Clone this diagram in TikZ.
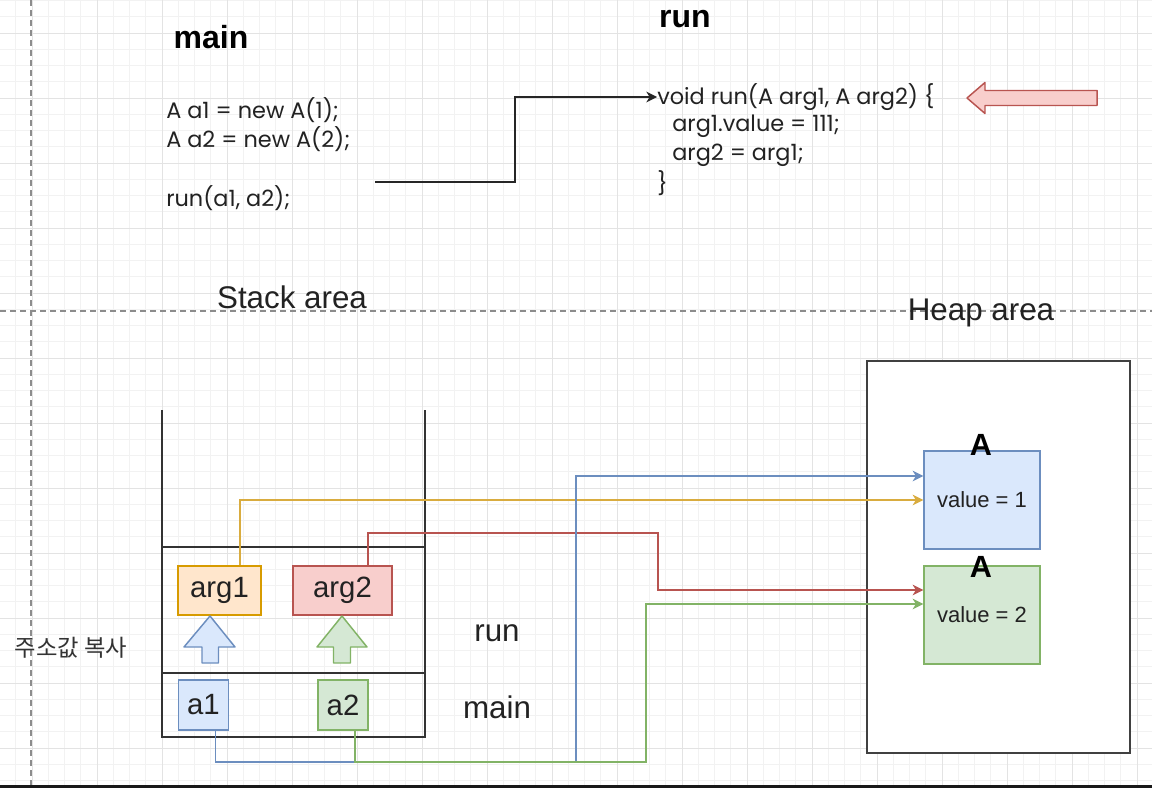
\documentclass[tikz,border=0pt]{standalone}
\usepackage{fontspec}
\setmainfont{Liberation Sans}
\newfontfamily\codefont{Poppins}
\newfontfamily\krfont{Noto Sans CJK KR}
\usetikzlibrary{arrows.meta,calc}
\definecolor{bfill}{HTML}{DAE8FC}\definecolor{bline}{HTML}{6C8EBF}
\definecolor{gfill}{HTML}{D5E8D4}\definecolor{gline}{HTML}{82B366}
\definecolor{ofill}{HTML}{FFE6CC}\definecolor{oline}{HTML}{D79B00}
\definecolor{rfill}{HTML}{F8CECC}\definecolor{rline}{HTML}{B85450}
\definecolor{yconn}{HTML}{D9AC3F}
\definecolor{txt}{HTML}{222222}
\begin{document}
\begin{tikzpicture}[x=0.75pt,y=-0.75pt,
  gminor/.style={draw=black!5,line width=0.6pt},
  gmajor/.style={draw=black!11,line width=0.6pt},
  pagebrk/.style={draw=black!45,line width=0.8pt,dash pattern=on 4.5pt off 3pt},
  title/.style={font=\fontsize{24}{28}\selectfont\bfseries,inner sep=0pt},
  area/.style={font=\fontsize{23.5}{28}\selectfont,inner sep=0pt,text=txt},
  code/.style={font=\codefont\fontsize{16.8}{20}\selectfont,inner sep=0pt,anchor=west,text=txt},
  cell/.style={draw,line width=1.1pt,inner sep=0pt,font=\fontsize{22}{26}\selectfont,text=txt},
  obj/.style={draw,line width=1.1pt,inner sep=0pt,minimum width=87pt,minimum height=73.5pt,font=\fontsize{16.5}{20}\selectfont,text=txt},
  conn/.style={line width=1.1pt,-{Stealth[length=8pt,width=8pt,inset=2.5pt]}},
  stackline/.style={draw=black!80,line width=1.5pt},
  blockarrow/.style={line width=1.1pt,line join=round}
]
\useasboundingbox (0,0) rectangle (1152,788);
\fill[white] (0,0) rectangle (1152,788);
% grid
\foreach \i in {0,...,71} {\draw[gminor] ({-0.5+16.25*\i},0) -- ({-0.5+16.25*\i},788);}
\foreach \j in {0,...,48} {\draw[gminor] (0,{0.5+16.25*\j}) -- (1152,{0.5+16.25*\j});}
\foreach \i in {0,...,17} {\draw[gmajor] ({32+65*\i},0) -- ({32+65*\i},788);}
\foreach \j in {0,...,11} {\draw[gmajor] (0,{33+65*\j}) -- (1152,{33+65*\j});}
% page breaks
\draw[pagebrk] (31,0) -- (31,788);
\draw[pagebrk] (0,311) -- (1152,311);
\fill[black!90] (0,785) rectangle (1152,788);

% titles
\node[title] (tmain) at (211,37) {main};
\node[title] (trun) at (685,19) {run};

% code main
\node[code] (l1) at (166,110) {A a1 = new A(1);};
\node[code] (l2) at (166,139) {A a2 = new A(2);};
\node[code] (l3) at (166,198) {run(a1, a2);};
% code run
\node[code] (r1) at (657,97) {void run(A arg1, A arg2) \{};
\node[code] (r2) at (672,126) {arg1.value = 111;};
\node[code] (r3) at (672,155) {arg2 = arg1;};
\node[code] (r4) at (657,183) {\}};

% call connector
\coordinate (cs) at (375,182);
\coordinate (cb) at (515,182);
\draw[conn,black!85] (cs) -- (cb) |- (r1.west);

% red block arrow
\draw[blockarrow,draw=rline,fill=rfill] (967,98) -- (985,82.5) -- (985,90.5) -- (1097,90.5) -- (1097,105.5) -- (985,105.5) -- (985,113.5) -- cycle;

% area titles
\node[area] (stackt) at (292,297) {Stack area};
\node[area] (heapt) at (981,313) {Heap area};

% heap
\node[draw=black!75,fill=white,line width=1.5pt,minimum width=197.25pt,minimum height=294pt,inner sep=0pt] (heap) at (998.5,557) {};
\node[obj,draw=bline,fill=bfill] (obj1) at (982,500) {value = 1};
\node[obj,draw=gline,fill=gfill] (obj2) at (982,615) {value = 2};
\node[title,font=\fontsize{23}{26}\selectfont\bfseries] (A1) at (981,445) {A};
\node[title,font=\fontsize{23}{26}\selectfont\bfseries] (A2) at (981,567) {A};

% stack
\draw[stackline] (162,410) -- (162,737) -- (425,737) -- (425,410);
\draw[stackline] (162,547) -- (425,547);
\draw[stackline] (162,673) -- (425,673);

\node[cell,draw=oline,fill=ofill,minimum width=62.25pt,minimum height=36.75pt] (arg1) at (219.5,590.5) {arg1};
\node[cell,draw=rline,fill=rfill,minimum width=74.25pt,minimum height=36.75pt] (arg2) at (342.5,590.5) {arg2};
\node[cell,draw=bline,fill=bfill,minimum width=37.5pt,minimum height=37.5pt] (a1) at (203.5,705) {a1};
\node[cell,draw=gline,fill=gfill,minimum width=37.5pt,minimum height=37.5pt] (a2) at (343,705) {a2};

\node[area] (lrun) at (497,633) {run};
\node[area] (lmain) at (497,707) {main};
\node[font=\krfont\fontsize{17.5}{20}\selectfont,text=black!80,inner sep=0pt] (copy) at (71,648) {주소값 복사};

% up block arrows
\draw[blockarrow,draw=bline,fill=bfill] (210,616) -- (235,647) -- (218.5,647) -- (218.5,663) -- (202,663) -- (202,647) -- (184,647) -- cycle;
\draw[blockarrow,draw=gline,fill=gfill] (342,616) -- (367,647) -- (350.5,647) -- (350.5,663) -- (333.5,663) -- (333.5,647) -- (317,647) -- cycle;

% connectors
\coordinate (rb) at (658,533);
\coordinate (bb) at (576,762);
\coordinate (gb) at (646,762);
\draw[conn,draw=yconn] ([xshift=15.4pt]arg1.north) |- (obj1.west);
\draw[conn,draw=rline] ([xshift=19pt]arg2.north) |- (rb) |- ([yshift=18.75pt]obj2.west);
\draw[conn,draw=bline] ([xshift=9pt]a1.south) |- (bb) |- ([yshift=18pt]obj1.west);
\draw[conn,draw=gline] ([xshift=9pt]a2.south) |- (gb) |- ([yshift=8.25pt]obj2.west);
\end{tikzpicture}
\end{document}
